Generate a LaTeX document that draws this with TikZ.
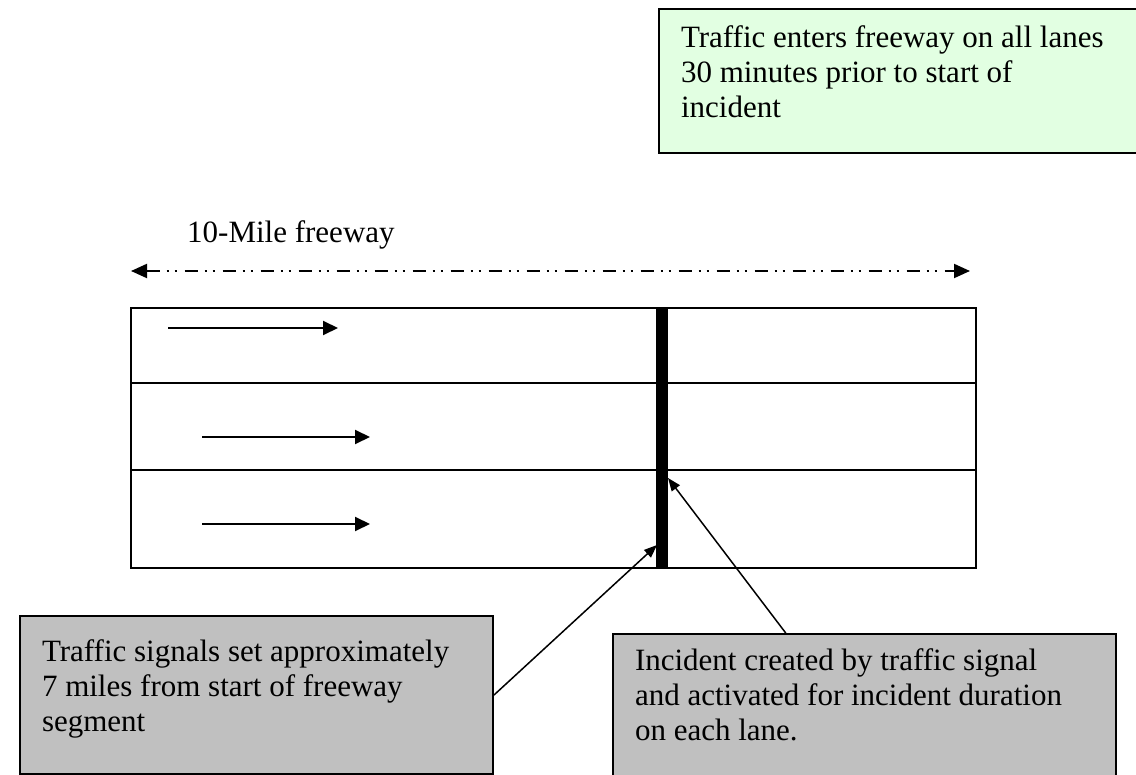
\documentclass[tikz,border=0pt]{standalone}
\usepackage{fontspec}
\setmainfont{Liberation Serif}
\usepackage{tikz}
\usetikzlibrary{arrows.meta,calc}
\tikzset{
  roadln/.style={line width=2pt},
  lanearrow/.style={-{Triangle[length=15pt,width=14pt]}, line width=2pt},
  spanarrow/.style={{Triangle[length=16pt,width=14pt]}-{Triangle[length=16pt,width=14pt]},
    line width=2pt, dash pattern=on 13pt off 7pt on 2pt off 6pt on 2pt off 8pt},
  notebox/.style={draw=black, line width=2pt, anchor=north west, inner xsep=22pt,
    font=\fontsize{31}{35}\selectfont},
  callout/.style={-{Triangle[length=13pt,width=10pt]}, line width=1.5pt},
}
\definecolor{entrygreen}{RGB}{226,255,226}
\definecolor{notegray}{RGB}{192,192,192}

\begin{document}
\begin{tikzpicture}[x=1pt, y=-1pt]
    \useasboundingbox (0,0) rectangle (1136,775);
    % note at the top
    \node[notebox, fill=entrygreen, inner ysep=17pt] (entrybox) at (658,8)
      {\parbox[t][110pt][t]{460pt}{\raggedright Traffic enters freeway on all lanes\\
       30 minutes prior to start of\\ incident}};
    % freeway length
    \node[anchor=base west, inner sep=0pt, font=\fontsize{31}{35}\selectfont]
      (lenlabel) at (187,243) {10-Mile freeway};
    \coordinate (spanL) at (131,271);
    \coordinate (spanR) at (970,271);
    \draw[spanarrow] (spanL) -- (spanR);
    % road with three lanes
    \draw[roadln] (131,308) rectangle (976,568);
    \draw[roadln] (131,383) -- (976,383);
    \draw[roadln] (131,470) -- (976,470);
    \draw[line width=12pt] (662,308) -- (662,568);
    \draw[lanearrow] (168,328) -- (338,328);
    \draw[lanearrow] (202,437) -- (370,437);
    \draw[lanearrow] (202,524) -- (370,524);
    \coordinate (sigtip) at (657,545);
    \coordinate (inctip) at (668,478);
    % notes at the bottom
    \node[notebox, fill=notegray, inner ysep=24pt] (signalbox) at (19,615)
      {\parbox[t][110pt][t]{429pt}{\raggedright Traffic signals set approximately\\
       7 miles from start of freeway\\ segment}};
    \node[notebox, fill=notegray, inner ysep=15pt] (incidentbox) at (612,633)
      {\parbox[t][120pt][t]{459pt}{\raggedright Incident created by traffic signal\\
       and activated for incident duration\\ on each lane.}};
    \draw[callout] (signalbox.east) -- (sigtip);
    \draw[callout] ($(incidentbox.north west)!0.344!(incidentbox.north east)$) -- (inctip);
\end{tikzpicture}
\end{document}
